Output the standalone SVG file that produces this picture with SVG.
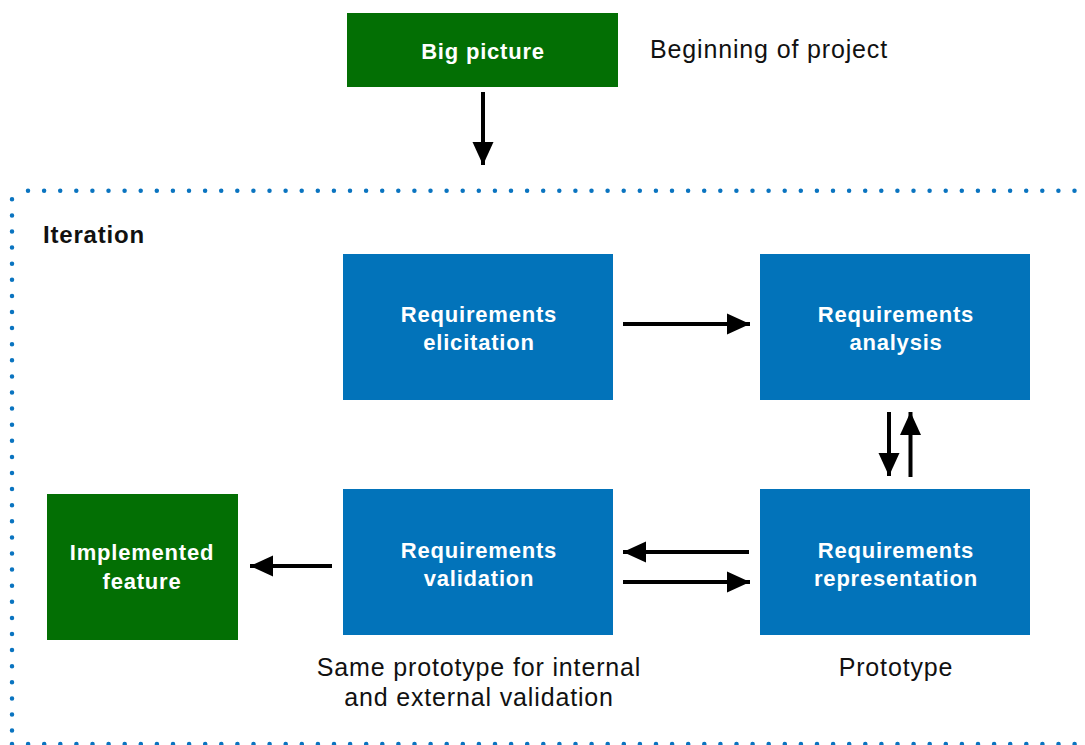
<svg xmlns="http://www.w3.org/2000/svg" width="1085" height="745" viewBox="0 0 1085 745">
  <defs>
    <style>
      .green { fill: #036F04; }
      .blue { fill: #0273BA; }
      .box-label { font-family: "Liberation Sans", Arial, sans-serif; font-weight: bold; font-size: 22px; letter-spacing: 0.8px; fill: #ffffff; text-anchor: middle; }
      .note { font-family: "Liberation Sans", Arial, sans-serif; font-size: 25px; letter-spacing: 0.85px; fill: #111111; }
      .title { font-family: "Liberation Sans", Arial, sans-serif; font-weight: bold; font-size: 24px; letter-spacing: 0.8px; fill: #111111; }
      .dots { fill: none; stroke: #0A74C0; stroke-width: 4.5; stroke-linecap: round; stroke-dasharray: 0 16.1; }
      .wire { fill: none; stroke: #000000; stroke-width: 4; marker-end: url(#head); }
    </style>
    <marker id="head" markerUnits="userSpaceOnUse" markerWidth="24" markerHeight="24" viewBox="0 0 24 24" refX="23" refY="12" orient="auto">
      <path d="M0,1.5 L23,12 L0,22.5 Z" fill="#000000"/>
    </marker>
  </defs>

  <!-- iteration frame (dotted) -->
  <g id="iteration-frame">
    <line class="dots" x1="28" y1="190.7" x2="1085" y2="190.7"/>
    <line class="dots" x1="12" y1="199.3" x2="12" y2="745"/>
    <line class="dots" x1="12" y1="744" x2="1085" y2="744"/>
    <text class="title" x="43" y="243">Iteration</text>
  </g>

  <g id="big-picture">
    <rect class="green" x="347" y="13" width="271" height="74"/>
    <text class="box-label" x="483" y="59">Big picture</text>
  </g>
  <g id="beginning-note">
    <text class="note" x="650" y="58">Beginning of project</text>
  </g>

  <g id="req-elicitation">
    <rect class="blue" x="343" y="254" width="270" height="146"/>
    <text class="box-label" x="479" y="322">Requirements</text>
    <text class="box-label" x="479" y="350">elicitation</text>
  </g>

  <g id="req-analysis">
    <rect class="blue" x="760" y="254" width="270" height="146"/>
    <text class="box-label" x="896" y="322">Requirements</text>
    <text class="box-label" x="896" y="350">analysis</text>
  </g>

  <g id="req-validation">
    <rect class="blue" x="343" y="489" width="270" height="146"/>
    <text class="box-label" x="479" y="558">Requirements</text>
    <text class="box-label" x="479" y="586">validation</text>
  </g>

  <g id="req-representation">
    <rect class="blue" x="760" y="489" width="270" height="146"/>
    <text class="box-label" x="896" y="558">Requirements</text>
    <text class="box-label" x="896" y="586">representation</text>
  </g>

  <g id="implemented-feature">
    <rect class="green" x="47" y="494" width="191" height="146"/>
    <text class="box-label" x="142" y="560">Implemented</text>
    <text class="box-label" x="142" y="589">feature</text>
  </g>

  <g id="validation-note">
    <text class="note" x="479" y="676" text-anchor="middle">Same prototype for internal</text>
    <text class="note" x="479" y="706" text-anchor="middle">and external validation</text>
  </g>
  <g id="prototype-note">
    <text class="note" x="896" y="676" text-anchor="middle">Prototype</text>
  </g>

  <!-- connectors -->
  <g id="connectors">
    <line class="wire" x1="483" y1="92" x2="483" y2="165"/>
    <line class="wire" x1="623" y1="324" x2="750" y2="324"/>
    <line class="wire" x1="889" y1="412" x2="889" y2="476"/>
    <line class="wire" x1="910.5" y1="477" x2="910.5" y2="412"/>
    <line class="wire" x1="749" y1="552" x2="623" y2="552"/>
    <line class="wire" x1="623" y1="582" x2="750" y2="582"/>
    <line class="wire" x1="332" y1="566" x2="250" y2="566"/>
  </g>
</svg>
